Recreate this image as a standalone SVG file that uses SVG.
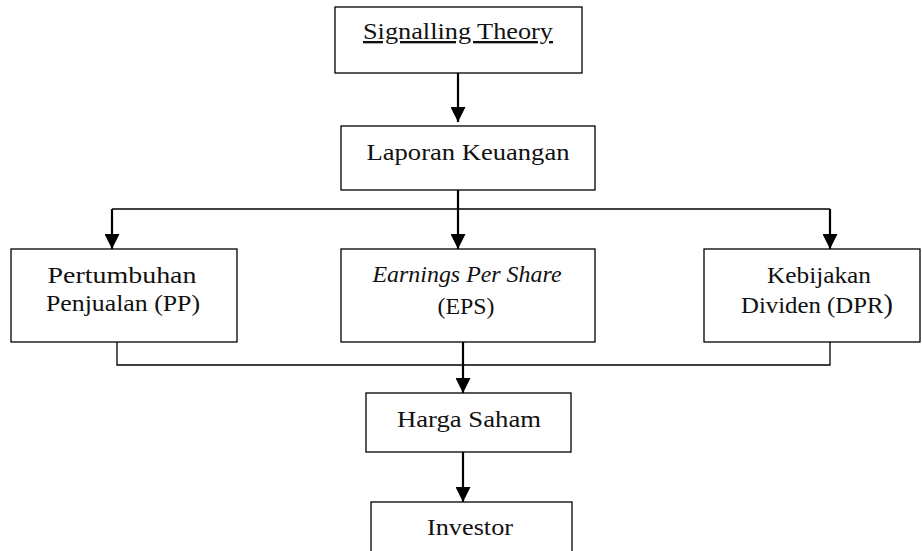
<svg xmlns="http://www.w3.org/2000/svg" width="922" height="551" viewBox="0 0 922 551">
<style>
.box{fill:#fff;stroke:#000;stroke-width:1.3}
.t{font-family:"Liberation Serif","DejaVu Serif",serif;font-size:23.5px;fill:#111;text-anchor:middle}
.c{fill:none;stroke:#000;stroke-width:1.3}
.a{fill:none;stroke:#000;stroke-width:2.2}
</style>
<defs>
<marker id="ah" markerUnits="userSpaceOnUse" markerWidth="15" markerHeight="15" refX="15" refY="7.5" orient="auto">
<path d="M0,0 L15,7.5 L0,15 z" fill="#000"/>
</marker>
</defs>
<rect width="922" height="551" fill="#fff"/>
<g id="connectors">
<line class="a" x1="458" y1="73" x2="458" y2="122" marker-end="url(#ah)"/>
<line class="a" x1="458" y1="190" x2="458" y2="249" marker-end="url(#ah)"/>
<polyline class="c" points="112,209 830,209"/>
<line class="a" x1="112" y1="209" x2="112" y2="249" marker-end="url(#ah)"/>
<line class="a" x1="830" y1="209" x2="830" y2="249" marker-end="url(#ah)"/>
<polyline class="c" points="117,342 117,365 830,365 830,342"/>
<line class="a" x1="463" y1="342" x2="463" y2="393" marker-end="url(#ah)"/>
<line class="a" x1="463" y1="452" x2="463" y2="502" marker-end="url(#ah)"/>
</g>
<g id="signalling">
<rect class="box" x="335" y="7" width="247" height="66"/>
<text class="t" x="458" y="39" textLength="190" lengthAdjust="spacingAndGlyphs" text-decoration="underline">Signalling Theory</text>
</g>
<g id="laporan">
<rect class="box" x="341" y="126" width="254" height="64"/>
<text class="t" x="468" y="160" textLength="203" lengthAdjust="spacingAndGlyphs">Laporan Keuangan</text>
</g>
<g id="pp">
<rect class="box" x="11" y="249" width="226" height="93"/>
<text class="t" x="122" y="283" textLength="149" lengthAdjust="spacingAndGlyphs">Pertumbuhan</text>
<text class="t" x="123" y="311" textLength="154" lengthAdjust="spacingAndGlyphs">Penjualan (PP)</text>
</g>
<g id="eps">
<rect class="box" x="341" y="249" width="254" height="93"/>
<text class="t" x="467" y="282" font-style="italic" textLength="189" lengthAdjust="spacingAndGlyphs">Earnings Per Share</text>
<text class="t" x="466" y="314" textLength="57" lengthAdjust="spacingAndGlyphs">(EPS)</text>
</g>
<g id="dpr">
<rect class="box" x="704" y="249" width="216" height="93"/>
<text class="t" x="819" y="283" textLength="104" lengthAdjust="spacingAndGlyphs">Kebijakan</text>
<text class="t" x="817" y="313" textLength="152" lengthAdjust="spacingAndGlyphs">Dividen (DPR<tspan font-size="27">)</tspan></text>
</g>
<g id="harga">
<rect class="box" x="366" y="393" width="205" height="59"/>
<text class="t" x="469" y="427" textLength="144" lengthAdjust="spacingAndGlyphs">Harga Saham</text>
</g>
<g id="investor">
<rect class="box" x="371" y="502" width="201" height="60"/>
<text class="t" x="470" y="535" textLength="86" lengthAdjust="spacingAndGlyphs">Investor</text>
</g>
</svg>
